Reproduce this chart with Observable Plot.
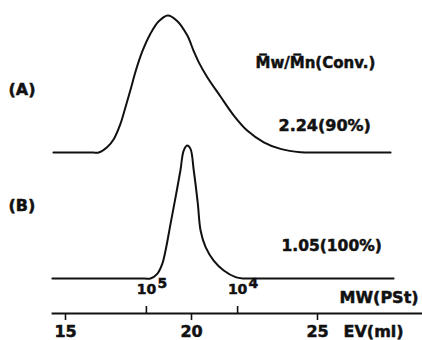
<!DOCTYPE html>
<html>
<head>
<meta charset="utf-8">
<script src="https://cdn.jsdelivr.net/npm/d3@7"></script>
<script src="https://cdn.jsdelivr.net/npm/@observablehq/plot@0.6"></script>
<style>
  html, body { margin: 0; padding: 0; background: #fff; }
  svg { display: block; }
</style>
</head>
<body>
<div id="chart"></div>
<script>
// Elution volume (ml) and normalized detector signal for trace (A)
const evA  = [14.52, 15.2, 15.8, 16.1, 16.32, 16.65, 16.92, 17.18, 17.38, 17.58, 17.78, 18.04, 18.37, 18.70, 19.06, 19.43, 19.83, 20.09, 20.29, 20.62, 21.15, 21.68, 22.21, 22.87, 23.53, 24.33, 25.12, 25.9, 26.8, 27.90];
const sigA = [0, 0, 0, 0, 0, 0.039, 0.101, 0.212, 0.336, 0.465, 0.600, 0.745, 0.880, 0.972, 1.015, 0.975, 0.868, 0.750, 0.668, 0.560, 0.415, 0.274, 0.163, 0.076, 0.027, 0.002, 0, 0, 0, 0];
// trace (B)
const evB  = [14.48, 15.5, 16.5, 17.4, 17.9, 18.15, 18.37, 18.64, 18.84, 18.97, 19.17, 19.37, 19.56, 19.69, 19.83, 19.96, 20.09, 20.25, 20.36, 20.56, 20.88, 21.28, 21.75, 22.05, 22.34, 22.8, 23.5, 24.5, 25.8, 27.0, 28.02];
const sigB = [0, 0, 0, 0, 0, 0, 0, 0.035, 0.109, 0.207, 0.407, 0.605, 0.800, 0.948, 0.985, 0.960, 0.800, 0.556, 0.356, 0.232, 0.133, 0.059, 0.010, 0, 0, 0, 0, 0, 0, 0, 0];

// axis ticks
const evTicks = [15, 20, 25];
const mwTickEV = [18.21, 21.83];
const mwTickBase = ["10", "10"];
const mwTickExp = ["5", "4"];

// texts
const traceLabels = ["(A)", "(B)"];
const ratioHeader = "M\u0305w/M\u0305n(Conv.)";
const ratioLabels = ["2.24(90%)", "1.05(100%)"];
const mwTitle = "MW(PSt)";
const evTitle = "EV(ml)";

// layout
const offsetA = 0.933;
const font = "DejaVu Sans";
const ink = "#111";

const dataA = evA.map((e, i) => ({ev: e, s: sigA[i] + offsetA}));
const dataB = evB.map((e, i) => ({ev: e, s: sigB[i]}));
const mwTicks = mwTickEV.map((e, i) => ({ev: e, base: mwTickBase[i], exp: mwTickExp[i]}));

const heavy = {fontWeight: "bold", fontFamily: font, fill: ink, stroke: ink, strokeWidth: 0.5, paintOrder: "stroke"};

const txt = (text, dx, dy, size, extra = {}) =>
  Plot.text([text], {
    text: d => d, frameAnchor: "top-left", dx, dy,
    textAnchor: "start", lineAnchor: "middle",
    fontSize: size, ...heavy, ...extra
  });

const chart = Plot.plot({
  width: 422,
  height: 340,
  marginLeft: 52,
  marginRight: 0,
  marginTop: 0,
  marginBottom: 27,
  x: {domain: [15, 25], range: [65, 317], axis: null},
  y: {domain: [-0.259, 2.059], axis: null},
  style: {fontFamily: font, background: "#fff"},
  marks: [
    Plot.frame({anchor: "bottom", stroke: ink, strokeWidth: 1.8}),
    // EV ticks hang below the base line, MW ticks stand above it
    Plot.ruleX(evTicks, {x: d => d, insetTop: 306, dy: 7, stroke: ink, strokeWidth: 1.6}),
    Plot.text(evTicks, {x: d => d, text: d => String(d), frameAnchor: "bottom", dy: 18,
      textAnchor: "middle", lineAnchor: "middle", fontSize: 16, ...heavy}),
    Plot.ruleX(mwTicks, {x: "ev", insetTop: 306, stroke: ink, strokeWidth: 1.6}),
    Plot.text(mwTicks, {x: "ev", text: "base", frameAnchor: "bottom", dy: -24,
      textAnchor: "middle", lineAnchor: "middle", fontSize: 14, ...heavy}),
    Plot.text(mwTicks, {x: "ev", text: "exp", frameAnchor: "bottom", dx: 11, dy: -30,
      textAnchor: "start", lineAnchor: "middle", fontSize: 14, ...heavy}),
    Plot.line(dataA, {x: "ev", y: "s", curve: "catmull-rom", stroke: ink, strokeWidth: 2}),
    Plot.line(dataB, {x: "ev", y: "s", curve: "catmull-rom", stroke: ink, strokeWidth: 2}),
    txt(traceLabels[0], -44, 89, 16),
    txt(traceLabels[1], -44, 205, 16),
    txt(ratioHeader, 203, 63, 15),
    txt(ratioLabels[0], 226, 125, 16),
    txt(ratioLabels[1], 229, 246, 15.5),
    txt(mwTitle, 287, 297, 16),
    txt(evTitle, 291, 331, 16, {ariaLabel: "ev-title"})
  ]
});

const evNode = chart.querySelector('[aria-label="ev-title"]');
if (evNode) evNode.setAttribute("letter-spacing", "1.6");
document.getElementById("chart").appendChild(chart);
</script>
</body>
</html>
